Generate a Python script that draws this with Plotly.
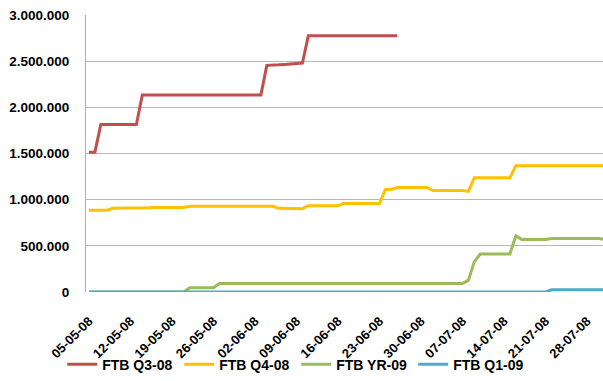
import pandas as pd
import plotly.graph_objects as go

# daily dates, 05-05-08 onward
start_date = "2008-05-05"
n_days = 88
dates = pd.date_range(start_date, periods=n_days, freq="D")

series_names = ["FTB Q3-08", "FTB Q4-08", "FTB YR-09", "FTB Q1-09"]
series_colors = ["#C0504D", "#FFC000", "#9BBB59", "#4BACC6"]

q3_08 = ([1515000] * 2 + [1815000] * 7 + [2135000] * 21 +
         [2455000, 2455000, 2460000, 2465000, 2470000, 2475000, 2480000] +
         [2775000] * 16)

q4_08 = ([885000] * 4 + [907000] * 6 + [912000] + [917000] * 6 + [928000] * 15 +
         [907000] * 2 + [905000] + [903000] * 2 + [935000] * 6 + [960000] * 7 +
         [1111000] * 2 + [1132000] * 6 + [1100000] * 6 + [1090000] +
         [1237000] * 7 + [1369000] * 16)

yr_09 = ([0] * 17 + [46000] * 5 + [93000] * 42 + [129000] + [330000] +
         [412000] * 6 + [610000] + [570000] * 5 + [581000] * 9 + [570000])

q1_09 = [0] * 78 + [25000] * 10

y_ticks = [0, 500000, 1000000, 1500000, 2000000, 2500000, 3000000]

all_series = [q3_08, q4_08, yr_09, q1_09]

fig = go.Figure()
for name, color, vals in zip(series_names, series_colors, all_series):
    fig.add_trace(go.Scatter(
        x=dates[:len(vals)], y=vals, mode="lines", name=name,
        line=dict(color=color, width=3),
    ))

font_family = "Liberation Sans, Arial, sans-serif"

# inner area: top 15 .. bottom 306 (291 px); plot occupies 15..294
fig.update_layout(
    width=603, height=381, autosize=False,
    margin=dict(l=86, r=0, t=15, b=75),
    paper_bgcolor="white", plot_bgcolor="white",
    separators=",.",
    font=dict(family=font_family, size=13, color="black"),
    showlegend=True,
    legend=dict(
        orientation="h", x=-0.046, xanchor="left", y=-0.21, yanchor="middle",
        bgcolor="rgba(0,0,0,0)",
        font=dict(family=font_family, size=14, color="black", weight="bold"),
        itemwidth=30, traceorder="normal",
        entrywidth=72, entrywidthmode="pixels",
    ),
)

fig.update_xaxes(
    type="date", automargin=False, anchor="free", position=0,
    range=["2008-05-04 12:00", "2008-07-30 16:48"],
    tick0=start_date, dtick=7 * 24 * 3600 * 1000,
    tickformat="%d-%m-%y", tickangle=-45,
    tickfont=dict(family=font_family, size=13, color="black", weight="bold"),
    showgrid=False, zeroline=False, showline=False, ticks="",
    ticklabelstandoff=6,
)

fig.update_yaxes(
    automargin=False, domain=[12 / 291, 1],
    range=[0, 3000000], tickvals=y_ticks, tickformat=",d",
    tickfont=dict(family=font_family, size=13.5, color="black", weight="bold"),
    showgrid=True, gridcolor="#b7b7b7", gridwidth=1,
    zeroline=False, showline=True, linecolor="#b0b0b0", linewidth=1,
    ticks="", ticklabelstandoff=13,
)

fig.write_html(
    "out.html",
    config={"displayModeBar": False},
    post_script="document.body.style.margin='0';document.body.style.overflow='hidden';",
)
